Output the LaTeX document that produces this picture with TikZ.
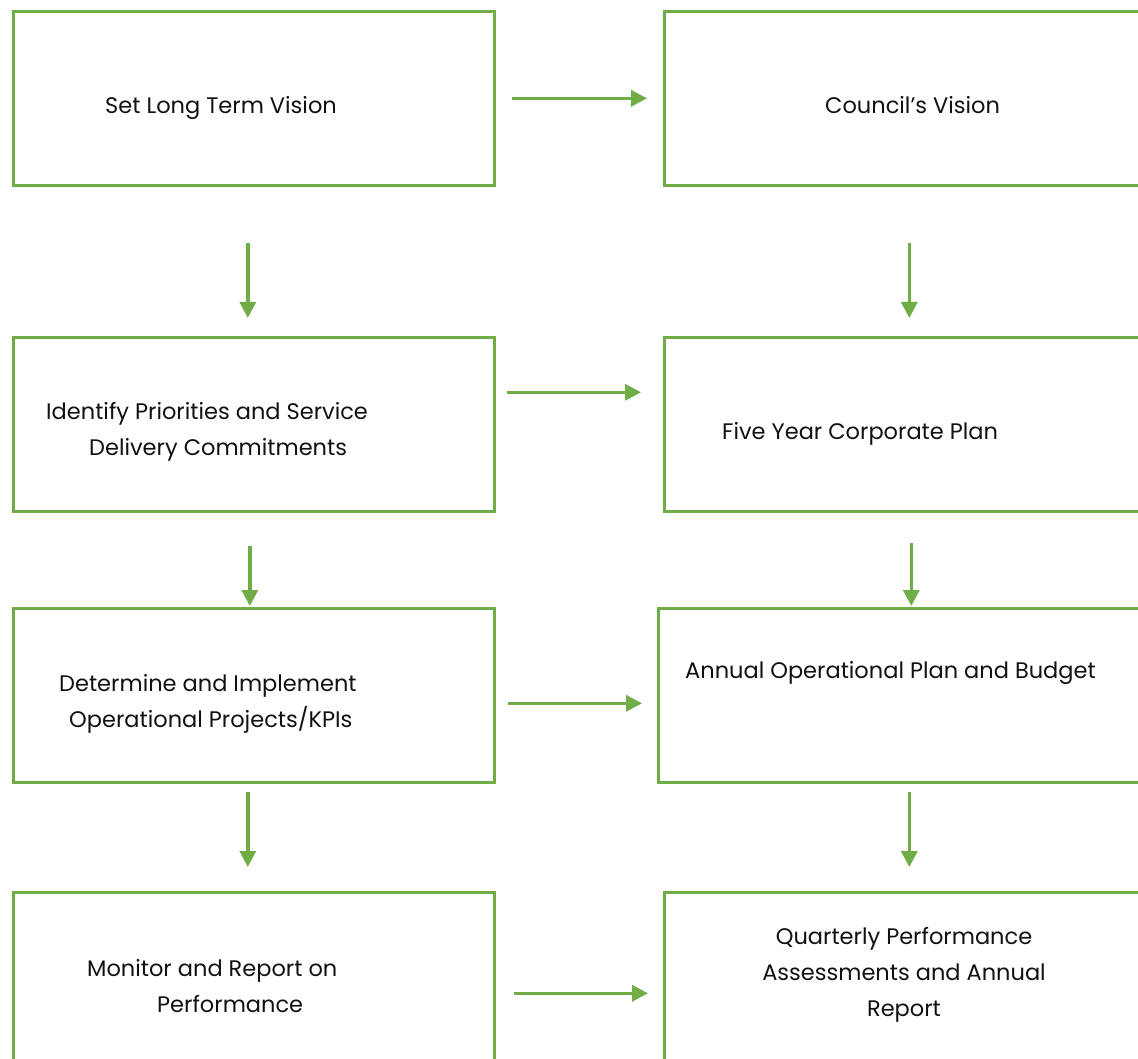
\documentclass[tikz,border=0pt]{standalone}
\usepackage{fontspec}
\setmainfont{Poppins}
\usetikzlibrary{arrows.meta}
\definecolor{grn}{HTML}{70AD47}
\definecolor{txt}{HTML}{111111}
\tikzset{
  box/.style={draw=grn, line width=2.6pt, minimum width=#1, inner sep=0pt},
  lbl/.style={inner sep=0pt, text=txt, font=\fontsize{22.5}{36}\selectfont},
  arr/.style={draw=grn, line width=3.4pt, -{Triangle[length=16pt,width=16pt]}}
}
\begin{document}
\begin{tikzpicture}[x=1pt,y=-1pt]
\useasboundingbox (0,0) rectangle (1138,1059);
\clip (0,0) rectangle (1138,1059);
% boxes
\node[box=481pt, minimum height=174pt, anchor=north west] (A1) at (12,10) {};
\node[box=481pt, minimum height=174pt, anchor=north west] (A2) at (12,336) {};
\node[box=481pt, minimum height=174pt, anchor=north west] (A3) at (12,607) {};
\node[box=481pt, minimum height=190pt, anchor=north west] (A4) at (12,891) {};
\node[box=500pt, minimum height=174pt, anchor=north west] (B1) at (663,10) {};
\node[box=500pt, minimum height=174pt, anchor=north west] (B2) at (663,336) {};
\node[box=506pt, minimum height=174pt, anchor=north west] (B3) at (657,607) {};
\node[box=500pt, minimum height=190pt, anchor=north west] (B4) at (663,891) {};
% labels
\node[lbl, anchor=west] (tA1) at (105,108) {Set Long Term Vision};
\node[lbl, anchor=west] (tB1) at (825,105) {Council’s Vision};
\node[lbl, anchor=west, align=left] (tA2) at (46,432) {Identify Priorities and Service\\\hspace*{43pt}Delivery Commitments};
\node[lbl, anchor=west] (tB2) at (722,434) {Five Year Corporate Plan};
\node[lbl, anchor=west, align=left] (tA3) at (59,704) {Determine and Implement\\\hspace*{10pt}Operational Projects/KPIs};
\node[lbl, anchor=west] (tB3) at (685,673) {Annual Operational Plan and Budget};
\node[lbl, anchor=west, align=left] (tA4) at (87,986) {Monitor and Report on\\\hspace*{70pt}Performance};
\node[lbl, align=center] (tB4) at (904,975) {Quarterly Performance\\Assessments and Annual\\Report};
% horizontal arrows
\draw[arr] ([xshift=16pt]A1.east) -- ([xshift=-16pt]B1.west);
\draw[arr] ([xshift=11pt,yshift=32pt]A2.east) -- ([xshift=-22pt,yshift=32pt]B2.west);
\draw[arr] ([xshift=12pt,yshift=-8pt]A3.east) -- ([xshift=-15pt,yshift=-8pt]B3.west);
\draw[arr] ([xshift=18pt,yshift=-6pt]A4.east) -- ([xshift=-15pt,yshift=-6pt]B4.west);
% vertical arrows
\draw[arr] ([xshift=-6pt,yshift=-56pt]A1.south) -- ([xshift=-6pt,yshift=18pt]A2.north);
\draw[arr] ([xshift=-4pt,yshift=-33pt]A2.south) -- ([xshift=-4pt,yshift=1pt]A3.north);
\draw[arr] ([xshift=-6pt,yshift=-8pt]A3.south) -- ([xshift=-6pt,yshift=24pt]A4.north);
\draw[arr] ([xshift=-5pt,yshift=-56pt]B1.south) -- ([xshift=-5pt,yshift=18pt]B2.north);
\draw[arr] ([xshift=-3pt,yshift=-30pt]B2.south) -- ([xshift=0pt,yshift=1pt]B3.north);
\draw[arr] ([xshift=-2pt,yshift=-8pt]B3.south) -- ([xshift=-5pt,yshift=24pt]B4.north);
\end{tikzpicture}
\end{document}
